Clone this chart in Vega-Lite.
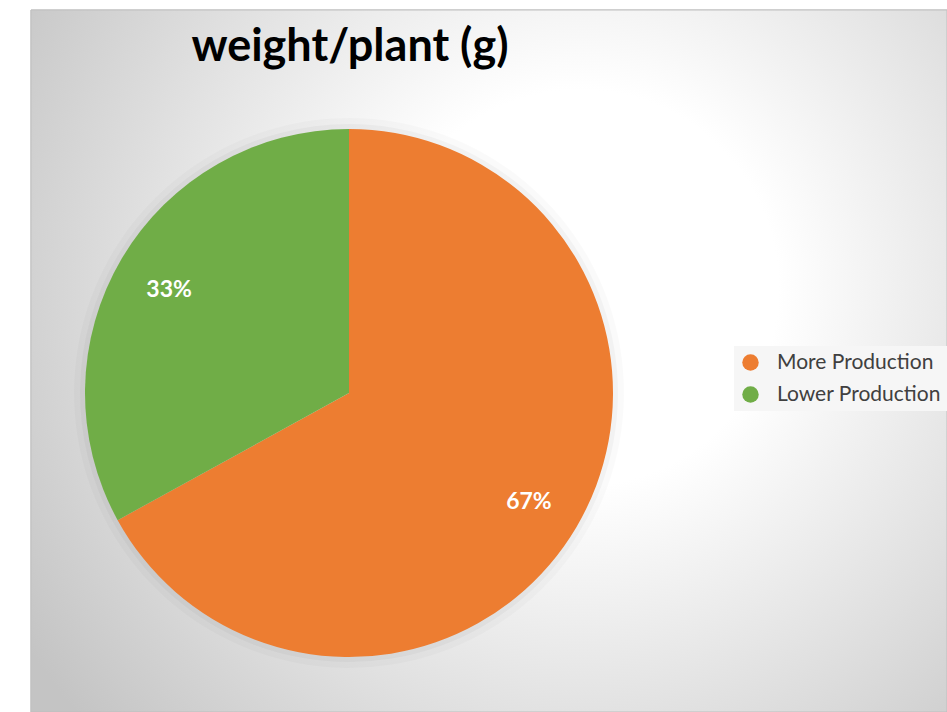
{
  "$schema": "https://vega.github.io/schema/vega-lite/v6.json",
  "width": 916,
  "height": 702,
  "autosize": {"type": "none"},
  "padding": {"left": 31, "top": 10, "right": 0, "bottom": 0},
  "background": "#ffffff",
  "title": {
    "text": "weight/plant (g)",
    "font": "Lato",
    "fontSize": 45,
    "fontWeight": "bold",
    "color": "#000000",
    "anchor": "middle",
    "baseline": "alphabetic",
    "offset": -50,
    "dy": 46,
    "dx": -139
  },
  "data": {
    "values": [
      {"category": "More Production", "percent": 67, "rank": 1, "label": "67%"},
      {"category": "Lower Production", "percent": 33, "rank": 2, "label": "33%"}
    ]
  },
  "layer": [
    {
      "mark": {
        "type": "rect",
        "fill": {
          "gradient": "radial",
          "x1": 0.6, "y1": 0.42, "r1": 0,
          "x2": 0.6, "y2": 0.42, "r2": 0.72,
          "stops": [
            {"offset": 0, "color": "#ffffff"},
            {"offset": 0.3, "color": "#ffffff"},
            {"offset": 1, "color": "#c4c4c4"}
          ]
        },
        "stroke": "#bfbfbf",
        "strokeWidth": 1
      },
      "encoding": {}
    },
    {
      "mark": {"type": "arc", "x": {"expr": "width*318/916"}, "y": {"expr": "height*383/702"}, "radius": 275, "fill": "#000000", "opacity": 0.02},
      "encoding": {
        "theta": {"field": "percent", "type": "quantitative", "stack": true},
        "order": {"field": "rank", "type": "ordinal"}
      }
    },
    {
      "mark": {"type": "arc", "x": {"expr": "width*318/916"}, "y": {"expr": "height*383/702"}, "radius": 269, "fill": "#000000", "opacity": 0.03},
      "encoding": {
        "theta": {"field": "percent", "type": "quantitative", "stack": true},
        "order": {"field": "rank", "type": "ordinal"}
      }
    },
    {
      "mark": {"type": "arc", "x": {"expr": "width*318/916"}, "y": {"expr": "height*383/702"}, "radius": 264, "stroke": null},
      "encoding": {
        "theta": {"field": "percent", "type": "quantitative", "stack": true},
        "order": {"field": "rank", "type": "ordinal"},
        "color": {
          "field": "category",
          "type": "nominal",
          "scale": {"domain": ["More Production", "Lower Production"], "range": ["#ED7D31", "#70AD47"]},
          "legend": {
            "title": null,
            "orient": "none",
            "legendX": 703,
            "legendY": 336,
            "symbolType": "circle",
            "symbolSize": 270,
            "symbolStrokeWidth": 0,
            "labelFont": "Lato",
            "labelFontSize": 21,
            "labelColor": "#404040",
            "labelOffset": 16,
            "labelLimit": 300,
            "rowPadding": 10,
            "padding": 6,
            "fillColor": "#f6f6f6"
          }
        }
      }
    },
    {
      "mark": {"type": "text", "x": {"expr": "width*318/916"}, "y": {"expr": "height*383/702"}, "radius": 209, "dy": 3, "font": "Lato", "fontSize": 23, "fontWeight": "bold", "fill": "#ffffff"},
      "encoding": {
        "theta": {"field": "percent", "type": "quantitative", "stack": true},
        "order": {"field": "rank", "type": "ordinal"},
        "text": {"field": "label", "type": "nominal"}
      }
    }
  ]
}
